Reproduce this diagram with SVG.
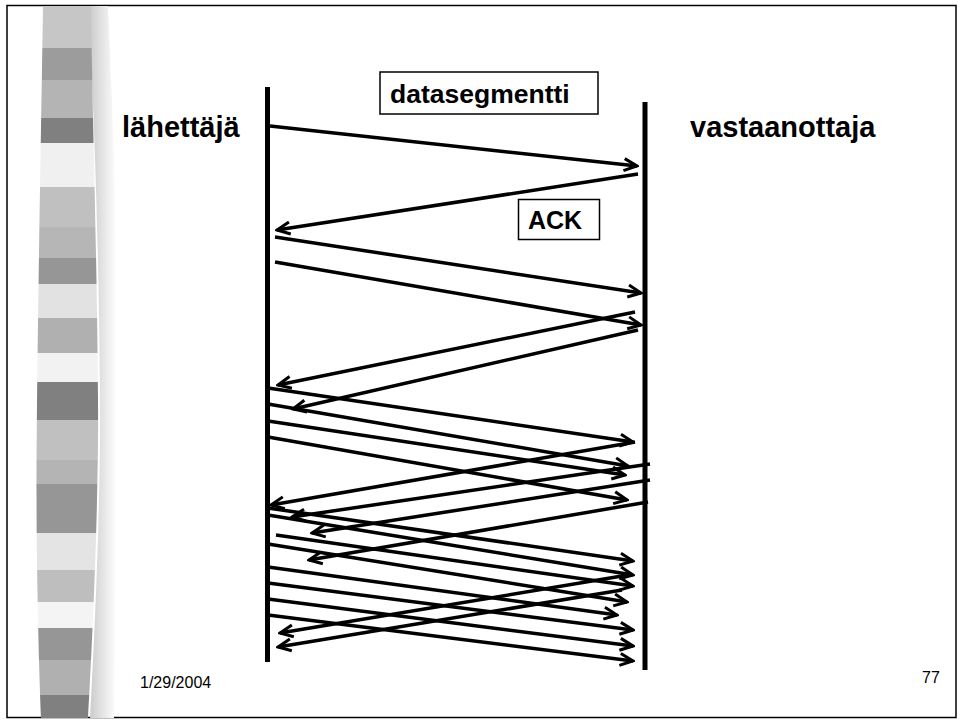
<svg xmlns="http://www.w3.org/2000/svg" width="962" height="722" viewBox="0 0 962 722">
<style>
.lbl{font-family:"Liberation Sans",Arial,sans-serif;font-weight:bold;font-size:29px;fill:#000}
.blbl{font-family:"Liberation Sans",Arial,sans-serif;font-weight:bold;font-size:26.5px;fill:#000}
.ft{font-family:"Liberation Sans",Arial,sans-serif;font-size:16px;fill:#000}
.bar{stroke:#000;stroke-width:5;fill:none}
.msg{stroke:#000;stroke-width:3.5;fill:none;marker-end:url(#ah)}
.box{fill:#fff;stroke:#000;stroke-width:1.5}
</style>
<defs>
<marker id="ah" viewBox="-16 -9 18 18" refX="0" refY="0" markerWidth="18" markerHeight="18" markerUnits="userSpaceOnUse" orient="auto">
<path d="M-13,-6 L0,0 L-13,6" fill="none" stroke="#000" stroke-width="3"/>
</marker>
<linearGradient id="sh" x1="0" y1="0" x2="1" y2="0">
<stop offset="0" stop-color="#c8c8c8"/>
<stop offset="1" stop-color="#ffffff"/>
</linearGradient>
<clipPath id="strip">
<path d="M43,6 C40,200 35,450 37,560 C38,640 40,690 41,718 L88,718 C92,650 99,500 98,400 C97,250 92,100 91,6 Z"/>
</clipPath>
</defs>
<rect x="0" y="0" width="962" height="722" fill="#fff"/>
<rect x="7" y="5.5" width="949" height="712" fill="none" stroke="#000" stroke-width="1.5"/>
<g id="strip-decor">
<path d="M88,6 C94,100 99,250 100,400 C101,500 94,650 90,718 L114,718 C116,600 118,400 116,250 C115,150 110,60 108,6 Z" fill="url(#sh)"/>
<g clip-path="url(#strip)">
<rect x="30" y="6" width="75" height="42" fill="#c6c6c6"/>
<rect x="30" y="48" width="75" height="32" fill="#9c9c9c"/>
<rect x="30" y="80" width="75" height="38" fill="#b4b4b4"/>
<rect x="30" y="118" width="75" height="25" fill="#808080"/>
<rect x="30" y="143" width="75" height="44" fill="#f0f0f0"/>
<rect x="30" y="187" width="75" height="40" fill="#c0c0c0"/>
<rect x="30" y="227" width="75" height="31" fill="#b6b6b6"/>
<rect x="30" y="258" width="75" height="26" fill="#969696"/>
<rect x="30" y="284" width="75" height="34" fill="#e2e2e2"/>
<rect x="30" y="318" width="75" height="35" fill="#b0b0b0"/>
<rect x="30" y="353" width="75" height="29" fill="#f2f2f2"/>
<rect x="30" y="382" width="75" height="38" fill="#808080"/>
<rect x="30" y="420" width="75" height="40" fill="#c0c0c0"/>
<rect x="30" y="460" width="75" height="24" fill="#b4b4b4"/>
<rect x="30" y="484" width="75" height="49" fill="#969696"/>
<rect x="30" y="533" width="75" height="37" fill="#e4e4e4"/>
<rect x="30" y="570" width="75" height="32" fill="#bebebe"/>
<rect x="30" y="602" width="75" height="26" fill="#f4f4f4"/>
<rect x="30" y="628" width="75" height="32" fill="#969696"/>
<rect x="30" y="660" width="75" height="35" fill="#b0b0b0"/>
<rect x="30" y="695" width="75" height="23" fill="#808080"/>
</g>
</g>
<g id="sender">
<line class="bar" x1="267.5" y1="87" x2="267.5" y2="662"/>
<text class="lbl" x="122" y="137">lähettäjä</text>
</g>
<g id="receiver">
<line class="bar" x1="645" y1="102" x2="645" y2="670"/>
<text class="lbl" x="690" y="137">vastaanottaja</text>
</g>
<g id="label-data">
<rect class="box" x="380" y="72" width="218" height="42"/>
<text class="blbl" x="390" y="103">datasegmentti</text>
</g>
<g id="label-ack">
<rect class="box" x="518.5" y="199.5" width="81" height="40"/>
<text class="blbl" x="528" y="229" style="font-size:25px">ACK</text>
</g>
<g id="connectors">
<line class="msg" x1="270" y1="126" x2="637" y2="166"/>
<line class="msg" x1="638" y1="174" x2="277" y2="230"/>
<line class="msg" x1="275" y1="237" x2="641" y2="293"/>
<line class="msg" x1="275" y1="262" x2="641" y2="325"/>
<line class="msg" x1="635" y1="312" x2="278" y2="385"/>
<line class="msg" x1="638" y1="330" x2="293" y2="409"/>
<line class="msg" x1="268" y1="388" x2="633" y2="442"/>
<line class="msg" x1="268" y1="404" x2="628" y2="466"/>
<line class="msg" x1="268" y1="421" x2="625" y2="475"/>
<line class="msg" x1="268" y1="437" x2="627" y2="500"/>
<line class="msg" x1="635" y1="442" x2="271" y2="505"/>
<line class="msg" x1="650" y1="464" x2="292" y2="517"/>
<line class="msg" x1="650" y1="480" x2="312" y2="533"/>
<line class="msg" x1="648" y1="502" x2="309" y2="560"/>
<line class="msg" x1="268" y1="508" x2="633" y2="561"/>
<line class="msg" x1="268" y1="515" x2="633" y2="575"/>
<line class="msg" x1="276" y1="535" x2="633" y2="586"/>
<line class="msg" x1="268" y1="544" x2="627" y2="602"/>
<line class="msg" x1="268" y1="567" x2="617" y2="615"/>
<line class="msg" x1="268" y1="583" x2="633" y2="630"/>
<line class="msg" x1="268" y1="599" x2="633" y2="646"/>
<line class="msg" x1="268" y1="615" x2="633" y2="661"/>
<line class="msg" x1="628" y1="575" x2="280" y2="633"/>
<line class="msg" x1="622" y1="590" x2="278" y2="647"/>
</g>
<g id="footer">
<text class="ft" x="140" y="688">1/29/2004</text>
<text class="ft" x="922" y="683">77</text>
</g>
</svg>
